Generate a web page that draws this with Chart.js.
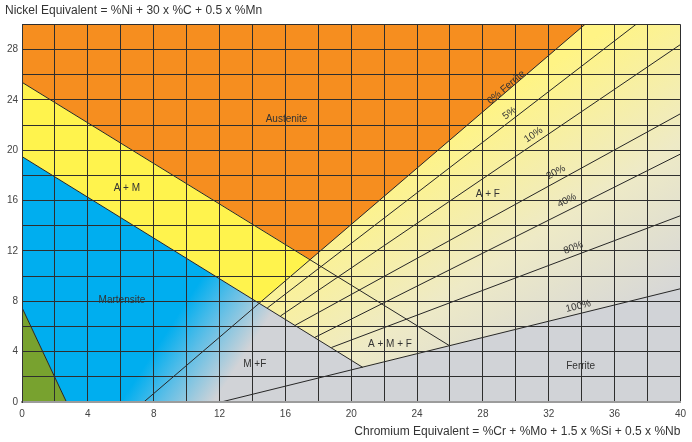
<!DOCTYPE html>
<html>
<head>
<meta charset="utf-8">
<style>
html,body{margin:0;padding:0;background:#ffffff;}
#wrap{width:692px;height:442px;position:relative;}
canvas{display:block;}
</style>
<script src="https://cdn.jsdelivr.net/npm/chart.js@4.4.1/dist/chart.umd.min.js"></script>
</head>
<body>
<div id="wrap"><canvas id="c" width="692" height="442"></canvas></div>
<script>
// ---------- DATA (Chromium equivalent, Nickel equivalent) ----------
const xTickLabels = [0, 4, 8, 12, 16, 20, 24, 28, 32, 36, 40];
const yTickLabels = [0, 4, 8, 12, 16, 20, 24, 28];
const xRange = [0, 40];
const yRange = [0, 30];

// boundary lines
const austeniteBoundary  = [[0, 25.4], [26.0, 4.45]];   // A / A+M
const martensiteBoundary = [[0, 19.5], [20.7, 2.75]];   // A+M / M
const greenBoundary      = [[0, 7.5], [2.7, 0]];

// ferrite iso-lines
const ferriteNames = ['0% Ferrite', '5%', '10%', '20%', '40%', '80%', '100%'];
const ferrite0   = [[7.4, 0],    [34.2, 30]];
const ferrite5   = [[14.9, 7.47], [37.3, 30]];
const ferrite10  = [[15.7, 6.83], [40, 28.4]];
const ferrite20  = [[16.6, 6.1],  [40, 22.9]];
const ferrite40  = [[17.8, 5.14], [40, 19.7]];
const ferrite80  = [[18.8, 4.33], [40, 14.8]];
const ferrite100 = [[12.1, 0],    [40, 9.0]];
const ferriteLines = [ferrite0, ferrite5, ferrite10, ferrite20, ferrite40, ferrite80, ferrite100];
// label anchor (x, y) for each ferrite line label
const ferriteLabelX = [29.42, 29.62, 31.08, 32.43, 33.1, 33.49, 33.8];
const ferriteLabelY = [25.0, 22.94, 21.22, 18.25, 16.0, 12.25, 7.6];

// phase regions (polygons)
const ferriteRegion    = [[0, 0], [40, 0], [40, 30], [0, 30]];
const martensiteRegion = [[0, 7.5], [0, 19.5], [20.7, 2.75], [12.1, 0], [2.7, 0]];
const afRegion         = [[14.42, 7.86], [34.2, 30], [40, 30], [40, 9.0], [20.7, 2.75]];
const austeniteRegion  = [[0, 25.4], [0, 30], [34.2, 30], [17.51, 11.32]];
const amRegion         = [[0, 19.5], [0, 25.4], [17.51, 11.32], [14.42, 7.86]];
const greenRegion      = [[0, 0], [0, 7.5], [2.7, 0]];

// region names and positions
const regionNames = ['Austenite', 'A + M', 'Martensite', 'M +F', 'A + F', 'A + M + F', 'Ferrite'];
const regionX = [16.07, 6.37, 6.07, 14.14, 28.3, 22.35, 33.94];
const regionY = [22.5, 16.96, 8.07, 3.0, 16.5, 4.6, 2.83];

// ---------- helpers ----------
const pts = arr => arr.map(p => ({x: p[0], y: p[1]}));
const closed = arr => pts(arr.concat([arr[0]]));

Chart.defaults.font.family = '"Liberation Sans", Arial, sans-serif';

function blueGradient(ctx) {
  const chart = ctx.chart;
  if (!chart.chartArea) return '#00aeef';
  const xs = chart.scales.x, ys = chart.scales.y;
  const x0 = xs.getPixelForValue(6), y0 = ys.getPixelForValue(0);
  const bx = xs.getPixelForValue(10) - x0, by = ys.getPixelForValue(8) - y0;
  let dx = -by, dy = bx; const n = Math.hypot(dx, dy); dx /= n; dy /= n;
  if (dx < 0) { dx = -dx; dy = -dy; }
  const L = 78;
  const g = chart.ctx.createLinearGradient(x0, y0, x0 + dx * L, y0 + dy * L);
  g.addColorStop(0, '#00aeef');
  g.addColorStop(0.45, '#62bfe6');
  g.addColorStop(1, '#d1d3d7');
  return g;
}
function paleGradient(ctx) {
  const chart = ctx.chart;
  if (!chart.chartArea) return '#f5f0b0';
  const xs = chart.scales.x, ys = chart.scales.y;
  const ax = xs.getPixelForValue(14.42), ay = ys.getPixelForValue(7.86);
  const bx = xs.getPixelForValue(38) - ax, by = ys.getPixelForValue(28) - ay;
  let dx = -by, dy = bx; const n = Math.hypot(dx, dy); dx /= n; dy /= n;
  if (dy < 0) { dx = -dx; dy = -dy; }
  const sx = ax - dx * 40, sy = ay - dy * 40, L = 270;
  const g = chart.ctx.createLinearGradient(sx, sy, sx + dx * L, sy + dy * L);
  g.addColorStop(0, '#fff485');
  g.addColorStop(0.5, '#eeeac6');
  g.addColorStop(1, '#d4d5d9');
  return g;
}

function region(data, color, order) {
  return {data: closed(data), showLine: true, fill: 'shape', backgroundColor: color,
          borderColor: 'rgba(0,0,0,0)', borderWidth: 0, pointRadius: 0, order: order};
}
function line(data) {
  return {data: pts(data), showLine: true, fill: false, borderColor: '#262626',
          borderWidth: 1, pointRadius: 0, order: 0};
}

const datasets = [
  region(ferriteRegion, '#d1d3d7', 100),
  region(martensiteRegion, blueGradient, 90),
  region(afRegion, paleGradient, 80),
  region(austeniteRegion, '#f68e1f', 70),
  region(amRegion, '#fff34d', 60),
  region(greenRegion, '#78a22f', 50),
  line(austeniteBoundary),
  line(martensiteBoundary),
  line(greenBoundary)
].concat(ferriteLines.map(line));

const labelPlugin = {
  id: 'phaseLabels',
  afterDraw(chart) {
    const c = chart.ctx, xs = chart.scales.x, ys = chart.scales.y;
    c.save();
    c.fillStyle = '#333';
    c.textAlign = 'center';
    c.textBaseline = 'middle';
    c.font = '10px "Liberation Sans", Arial, sans-serif';
    regionNames.forEach((t, i) => c.fillText(t, xs.getPixelForValue(regionX[i]), ys.getPixelForValue(regionY[i])));
    c.font = '10px "Liberation Sans", Arial, sans-serif';
    ferriteNames.forEach((t, i) => {
      const l = ferriteLines[i];
      const ang = Math.atan2(ys.getPixelForValue(l[1][1]) - ys.getPixelForValue(l[0][1]),
                             xs.getPixelForValue(l[1][0]) - xs.getPixelForValue(l[0][0]));
      c.save();
      c.translate(xs.getPixelForValue(ferriteLabelX[i]), ys.getPixelForValue(ferriteLabelY[i]));
      c.rotate(ang);
      c.fillText(t, 0, 0);
      c.restore();
    });
    c.restore();
  }
};

new Chart(document.getElementById('c'), {
  type: 'scatter',
  data: {datasets},
  options: {
    responsive: false,
    animation: false,
    devicePixelRatio: 1,
    layout: {padding: {left: 5, right: 6, top: 0, bottom: 0}},
    plugins: {
      legend: {display: false},
      tooltip: {enabled: false},
      title: {display: true, text: 'Nickel Equivalent = %Ni + 30 x %C + 0.5 x %Mn',
              align: 'start', color: '#333', font: {size: 12, weight: 'normal'},
              padding: {top: 3, bottom: 7}}
    },
    scales: {
      x: {
        type: 'linear', min: xRange[0], max: xRange[1],
        grid: {color: '#2e2e2e', lineWidth: 1, drawTicks: false, z: 1},
        border: {display: true, color: '#9c9c9c', width: 2, z: 2},
        ticks: {stepSize: 2, autoSkip: false, maxRotation: 0, padding: 6, color: '#444', font: {size: 10},
                callback: v => xTickLabels.includes(v) ? String(v) : ''},
        title: {display: true, text: 'Chromium Equivalent = %Cr + %Mo + 1.5 x %Si + 0.5 x %Nb',
                align: 'end', color: '#333', font: {size: 12}, padding: {top: 0, bottom: 3}},
        afterFit(s) { s.height = 40; }
      },
      y: {
        type: 'linear', min: yRange[0], max: yRange[1],
        grid: {color: '#2e2e2e', lineWidth: 1, drawTicks: false, z: 1},
        border: {display: true, color: '#333', width: 1, z: 2},
        ticks: {stepSize: 2, autoSkip: false, padding: 4, color: '#444', font: {size: 10},
                callback: v => yTickLabels.includes(v) ? String(v) : ''},
        afterFit(s) { s.width = 17; }
      }
    }
  },
  plugins: [labelPlugin]
});
</script>
</body>
</html>
